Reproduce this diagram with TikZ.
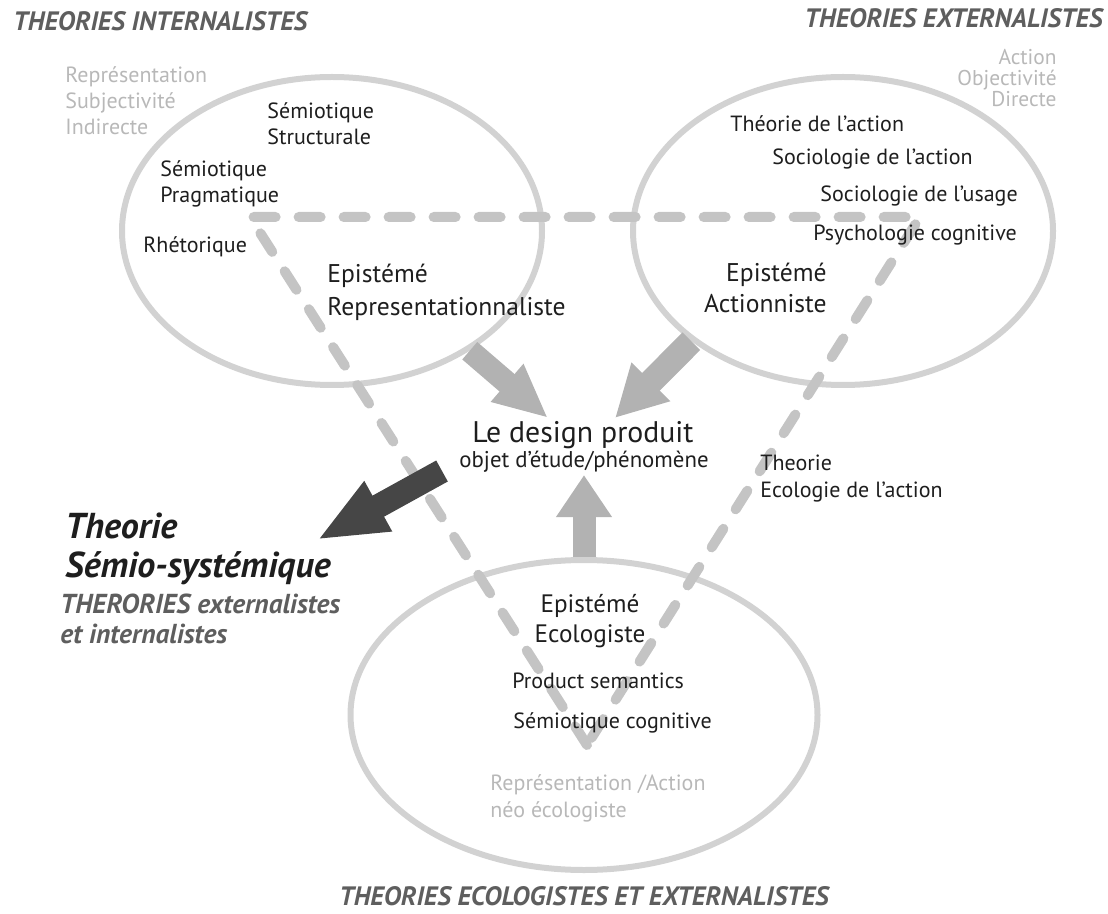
\documentclass[tikz,border=0pt]{standalone}
\usepackage{fontspec}
\setmainfont{PT Sans}
\usepackage{xcolor}
\usetikzlibrary{shapes.geometric,arrows.meta,positioning}

\definecolor{ringgray}{HTML}{D2D2D2}
\definecolor{dashgray}{HTML}{C4C4C4}
\definecolor{arrowgray}{HTML}{B2B2B2}
\definecolor{darkgray}{HTML}{464646}
\definecolor{titlegray}{HTML}{5E5E5E}
\definecolor{softgray}{HTML}{B8B8B8}
\definecolor{inkblack}{HTML}{1E1E1E}

\begin{document}
\begin{tikzpicture}[
    x=0.5pt, y=-0.5pt,
    ring/.style={
        ellipse, draw=ringgray, line width=3pt, inner sep=0pt
    },
    titletext/.style={
        font=\fontsize{13.3}{15}\selectfont\bfseries\itshape,
        text=titlegray, inner sep=0pt
    },
    softtext/.style={
        font=\fontsize{11}{13}\selectfont, text=softgray,
        inner sep=0pt, align=left, anchor=base west
    },
    theorytext/.style={
        font=\fontsize{11}{13}\selectfont, text=inkblack,
        inner sep=0pt, align=left, anchor=base west
    },
    epitext/.style={
        font=\fontsize{12.8}{16.5}\selectfont, text=inkblack,
        inner sep=0pt, align=left, anchor=base west
    },
    triangle/.style={
        draw=dashgray, line width=5pt, line cap=round, line join=round,
        dash pattern=on 11pt off 11.5pt
    },
    blockarrow/.style={
        draw=arrowgray, line cap=butt
    }
]
    \useasboundingbox (0,0) rectangle (1108,914);

    % The three fields
    \node [ring, minimum width=210pt, minimum height=154pt] (repr) at (332,231) {};
    \node [ring, minimum width=210pt, minimum height=154pt] (act) at (843,231) {};
    \node [ring, minimum width=233.5pt, minimum height=155pt] (eco) at (584,715) {};

    % Dashed triangle
    \coordinate (cornerL) at (250,217);
    \coordinate (cornerR) at (920,217);
    \coordinate (cornerB) at (587,745);
    \draw [triangle] (cornerB) -- (cornerL) -- (cornerR) -- cycle;

    % Arrow tips
    \coordinate (tipRepr) at (548,418);
    \coordinate (tipAct) at (615,418);
    \coordinate (tipEco) at (584,475);
    \coordinate (darkTail) at (442,471);
    \coordinate (darkTip) at (317,540);

    % Arrows
    \draw [blockarrow, line width=11.5pt, -{Triangle[length=27pt, width=23pt]}] (repr.-41) -- (tipRepr);
    \draw [blockarrow, line width=12.5pt, -{Triangle[length=25.5pt, width=25.5pt]}] (act.216.5) -- (tipAct);
    \draw [blockarrow, line width=11.5pt, -{Triangle[length=21pt, width=26.5pt]}] (eco.north) -- (tipEco);
    \draw [draw=darkgray, line width=12pt, -{Triangle[length=35pt, width=26pt]}] (darkTail) -- (darkTip);

    % Titles
    \node [titletext, anchor=base west] (titleint) at (13,31) {THEORIES INTERNALISTES};
    \node [titletext, anchor=base east] (titleext) at (1103,28) {THEORIES EXTERNALISTES};
    \node [titletext, anchor=base] (titleeco) at (584,905) {THEORIES ECOLOGISTES ET EXTERNALISTES};

    % Grey keywords
    \node [softtext] (softint) at (65,135) {Représentation\\Subjectivité\\Indirecte};
    \node [softtext, font=\fontsize{10.7}{10.5}\selectfont, align=right, anchor=base east] (softext) at (1057,107) {Action\\Objectivité\\Directe};
    \node [softtext, font=\fontsize{11}{13.5}\selectfont] (softeco) at (490,817) {Représentation /Action\\néo écologiste};

    % Representationalist field
    \node [theorytext] (semstruct) at (267,145) {Sémiotique\\Structurale};
    \node [theorytext] (sempragm) at (160,203) {Sémiotique\\Pragmatique};
    \node [theorytext] (rhet) at (143,253) {Rhétorique};
    \node [epitext] (epirepr) at (327,316) {Epistémé\\Representationnaliste};

    % Actionist field
    \node [theorytext] (thact) at (730,132) {Théorie de l'action};
    \node [theorytext] (socact) at (772,165) {Sociologie de l'action};
    \node [theorytext] (socuse) at (820,202) {Sociologie de l'usage};
    \node [theorytext] (psycog) at (813,241) {Psychologie cognitive};
    \node [epitext, font=\fontsize{12.8}{15.5}\selectfont, align=right, anchor=base east] (epiact) at (827,313) {Epistémé\\Actionniste};

    % Object of study
    \node [inner sep=0pt, anchor=base, text=inkblack, font=\fontsize{14.9}{16}\selectfont] (design) at (583,443) {Le design produit};
    \node [inner sep=0pt, anchor=base, text=inkblack, font=\fontsize{11.4}{12}\selectfont] (designsub) at (584,467) {objet d'étude/phénomène};
    \node [theorytext, font=\fontsize{11}{13.5}\selectfont] (ecoact) at (760,497) {Theorie\\Ecologie de l'action};

    % Semio-systemic theory
    \node [inner sep=0pt, align=left, anchor=base west, text=inkblack, font=\fontsize{18}{19.5}\selectfont\bfseries\itshape] (semio) at (65,577) {Theorie\\Sémio-systémique};
    \node [titletext, font=\fontsize{13.7}{15}\selectfont\bfseries\itshape, align=left, anchor=base west] (semiosub) at (60,643) {THERORIES externalistes\\et internalistes};

    % Ecologist field
    \node [epitext, font=\fontsize{12.6}{15}\selectfont, align=center, anchor=base] (epieco) at (590,642) {Epistémé\\Ecologiste};
    \node [theorytext] (prodsem) at (512,688) {Product semantics};
    \node [theorytext] (semcog) at (513,728) {Sémiotique cognitive};

\end{tikzpicture}
\end{document}
